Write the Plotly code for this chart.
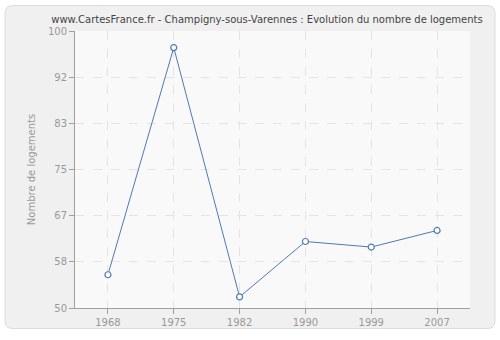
import plotly.graph_objects as go

years = ["1968", "1975", "1982", "1990", "1999", "2007"]
logements = [56, 97, 52, 62, 61, 64]
ytick_vals = [50, 50 + 50/6, 50 + 100/6, 75, 50 + 200/6, 50 + 250/6, 100]
ytick_text = ["50", "58", "67", "75", "83", "92", "100"]

W, H = 500, 340
ml, mr, mt, mb = 75, 30, 31, 26
pw, ph = W - ml - mr, H - mt - mb

def px_x(x):
    return (x - ml) / pw

def px_y(y):
    return 1 - (y - mt) / ph

fig = go.Figure()
fig.add_trace(go.Scatter(
    x=years, y=logements, mode="lines+markers",
    line=dict(color="#4e7bb0", width=1),
    marker=dict(size=6, color="white", line=dict(color="#4e7bb0", width=1.2)),
    hoverinfo="skip", showlegend=False,
))

# rounded outer frame
x0, x1, y0, y1, r = 5, 495, 5, 335, 8
path = (f"M {px_x(x0+r)},{px_y(y0)} L {px_x(x1-r)},{px_y(y0)} "
        f"Q {px_x(x1)},{px_y(y0)} {px_x(x1)},{px_y(y0+r)} "
        f"L {px_x(x1)},{px_y(y1-r)} Q {px_x(x1)},{px_y(y1)} {px_x(x1-r)},{px_y(y1)} "
        f"L {px_x(x0+r)},{px_y(y1)} Q {px_x(x0)},{px_y(y1)} {px_x(x0)},{px_y(y1-r)} "
        f"L {px_x(x0)},{px_y(y0+r)} Q {px_x(x0)},{px_y(y0)} {px_x(x0+r)},{px_y(y0)} Z")
fig.add_shape(type="path", path=path, xref="paper", yref="paper",
              fillcolor="#f0f0f0", line=dict(color="#dcdcdc", width=1), layer="below")
fig.add_shape(type="rect", x0=0, x1=1, y0=0, y1=1, xref="paper", yref="paper",
              fillcolor="#f9f9f9", line=dict(width=0), layer="below")

fig.update_layout(
    width=W, height=H,
    margin=dict(l=ml, r=mr, t=mt, b=mb),
    paper_bgcolor="white",
    plot_bgcolor="rgba(0,0,0,0)",
    font=dict(family="DejaVu Sans", size=11, color="#999999"),
    title=dict(text="www.CartesFrance.fr - Champigny-sous-Varennes : Evolution du nombre de logements",
               x=px_x(267), xref="paper", xanchor="center", y=1 - 19/H, yanchor="middle",
               font=dict(size=10, color="#444444")),
    xaxis=dict(
        type="category", range=[-0.5, 5.5],
        showgrid=True, gridcolor="#e4e4e4", griddash="dash", gridwidth=1,
        showline=True, linecolor="#a0a0a0", linewidth=1,
        ticks="outside", ticklen=5, tickcolor="#a0a0a0",
        tickfont=dict(size=10, color="#999999"), zeroline=False, fixedrange=True,
    ),
    yaxis=dict(
        range=[50, 100], tickvals=ytick_vals, ticktext=ytick_text,
        showgrid=True, gridcolor="#e4e4e4", griddash="dash", gridwidth=1,
        showline=True, linecolor="#a0a0a0", linewidth=1,
        ticks="outside", ticklen=5, tickcolor="#a0a0a0",
        tickfont=dict(size=10, color="#999999"), zeroline=False,
        title=dict(text="Nombre de logements", font=dict(size=10, color="#999999"), standoff=10),
        fixedrange=True,
    ),
)

fig.write_html("out.html")
